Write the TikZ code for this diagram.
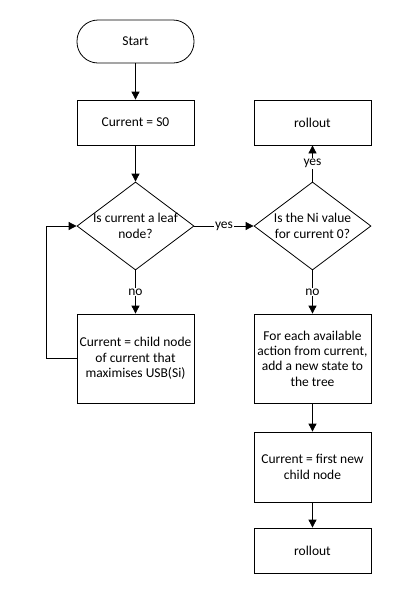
\documentclass[tikz,border=0pt]{standalone}
\usepackage{fontspec}
\setmainfont{Carlito}
\usetikzlibrary{arrows.meta,shapes.geometric}

\begin{document}
\begin{tikzpicture}[x=1pt,y=-1pt,
                    font=\fontsize{13.5}{15.4}\selectfont,
                    box/.style={draw,thick,minimum width=117pt,inner sep=0pt,align=center},
                    choice/.style={draw,thick,diamond,aspect=1.33,inner sep=-14pt,minimum width=117pt,minimum height=88pt,align=center},
                    flow/.style={thick,-{Triangle[length=8pt,width=8pt]}},
                    tag/.style={fill=white,inner sep=1pt}]
                    \useasboundingbox (0,0) rectangle (404,598);
%                    left column
                    \node[box,rounded corners=21pt,minimum height=43pt] (start) at (135.5,41.5) {Start};
                    \node[box,minimum height=45pt] (szero) at (135.5,122.5) {Current = S0};
                    \node[choice] (leaf) at (135.5,226) {Is current a leaf\\node?};
                    \node[box,minimum height=89pt] (child) at (135.5,358.5) {Current = child node\\of current that\\maximises USB(Si)};
%                    right column
                    \node[box,minimum height=45pt] (rollA) at (312.5,122.5) {rollout};
                    \node[choice] (nival) at (312.5,226) {Is the Ni value\\for current 0?};
                    \node[box,minimum height=89pt] (expand) at (312.5,358.5) {For each available\\action from current,\\add a new state to\\the tree};
                    \node[box,minimum height=70pt] (first) at (312.5,467) {Current = first new\\child node};
                    \node[box,minimum height=45pt] (rollB) at (312.5,550.5) {rollout};

                    \draw[flow] (start) -- (szero);
                    \draw[flow] (szero) -- (leaf);
                    \draw[flow] (leaf) -- node[tag] {yes} (nival);
                    \draw[flow] (leaf) -- node[tag] {no} (child);
                    \draw[flow] (child.west) -- ++(-30,0) |- (leaf.west);
                    \draw[flow] (nival) -- node[tag] {yes} (rollA);
                    \draw[flow] (nival) -- node[tag] {no} (expand);
                    \draw[flow] (expand) -- (first);
                    \draw[flow] (first) -- (rollB);

                \end{tikzpicture}
\end{document}
